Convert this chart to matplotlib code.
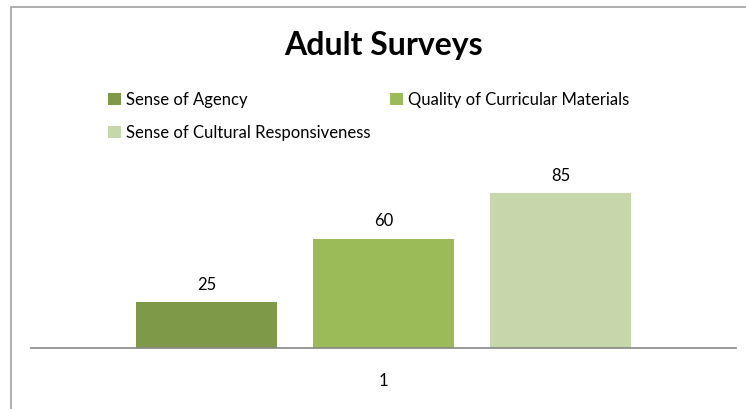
import matplotlib.pyplot as plt
from matplotlib.patches import Rectangle

plt.rcParams['font.family'] = ['Lato', 'DejaVu Sans']

categories = ["1"]
series = ["Sense of Agency", "Quality of Curricular Materials", "Sense of Cultural Responsiveness"]
values = [25, 60, 85]
colors = ["#7E9A48", "#9BBB59", "#C6D7AB"]

W, H = 746, 409
fig = plt.figure(figsize=(W / 100, H / 100), dpi=100)

# outer chart border (right/bottom edges cut off in the reference)
fig.patches.append(Rectangle((11 / W, -0.5), 2, (H - 7) / H + 0.5, transform=fig.transFigure,
                             fill=False, edgecolor="#A0A0A0", linewidth=1.2))

ax = fig.add_axes([31 / W, (H - 348) / H, 705 / W, 188 / H])
offsets = [-0.251, 0, 0.251]
handles = []
for name, v, c, off in zip(series, values, colors, offsets):
    b = ax.bar(0 + off, v, width=0.2, color=c, label=name)
    handles.append(b)
    ax.text(0 + off, v + 5, str(v), ha="center", va="bottom", fontsize=12, color="#000000")

ax.set_xlim(-0.5, 0.5)
ax.set_ylim(0, 188 / 1.8235)
ax.set_xticks([0])
ax.set_xticklabels(categories, fontsize=12)
ax.tick_params(axis="x", length=0, pad=18)
ax.set_yticks([])
for s in ["top", "right", "left"]:
    ax.spines[s].set_visible(False)
ax.spines["bottom"].set_color("#868686")
ax.spines["bottom"].set_linewidth(1.2)

fig.text(383 / W, 1 - 45 / H, "Adult Surveys", ha="center", va="center",
         fontsize=23, fontweight="bold")

order = [0, 2, 1]
fig.legend([handles[i] for i in order], [series[i] for i in order], ncol=2,
           loc="upper left", bbox_to_anchor=(93 / W, 1 - 77 / H), frameon=False,
           fontsize=12, handlelength=0.75, handleheight=0.75, handletextpad=0.3,
           columnspacing=1.2, labelspacing=1.0)

fig.savefig("out.png", dpi=100)
